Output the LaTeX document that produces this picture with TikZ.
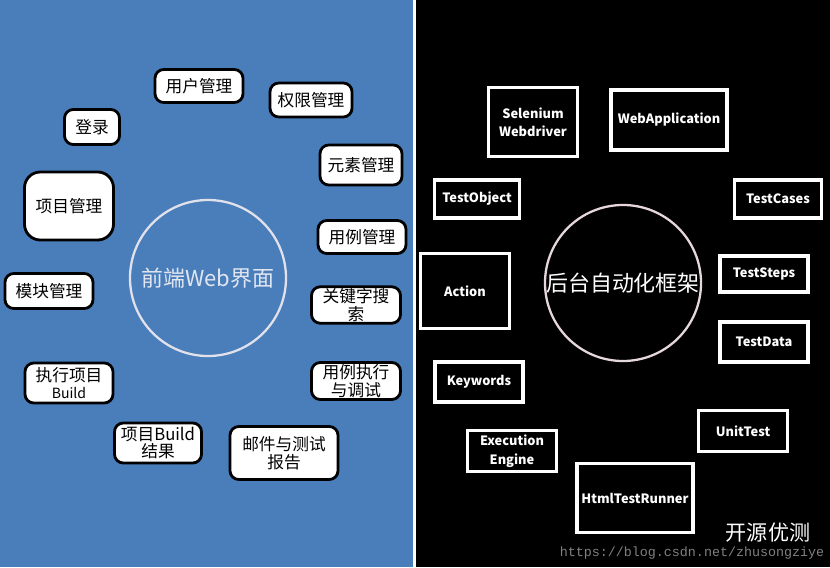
\documentclass[tikz,border=0pt]{standalone}
\usepackage{fontspec}
\setmainfont{Noto Sans CJK SC}
\setmonofont{Liberation Mono}
\usetikzlibrary{positioning}

\begin{document}
\begin{tikzpicture}[x=0.02cm,y=-0.02cm]

    %
    % Styles for panels, modules and centres
    %
    \tikzstyle{webBox} = [draw=black, line width=1.6pt, fill=white, rounded corners=5pt,
                          align=center, inner sep=1pt, font=\fontsize{9.5}{10}\selectfont, text=black];
    \tikzstyle{coreBox} = [draw=white, line width=2pt, fill=black, rectangle, align=center,
                           inner sep=1pt, font=\fontsize{7.3}{10.5}\selectfont\bfseries, text=white];
    \tikzstyle{hub} = [circle, line width=1.3pt, minimum size=156*0.02cm, inner sep=0pt,
                       font=\fontsize{12.5}{13}\selectfont];

    \useasboundingbox (0,0) rectangle (830,567);
    \fill[white] (0,0) rectangle (830,567);
    \fill[fill={rgb,255:red,74;green,126;blue,187}] (0,0) rectangle (413,567);
    \fill[black] (416,0) rectangle (830,567);

    %
    % Front end
    %
    \node[hub, draw={rgb,255:red,225;green,225;blue,235}, text={rgb,255:red,225;green,230;blue,240}, name=front] at (208,278) {前端Web界面};
    \node[webBox, minimum width=88*0.02cm, minimum height=33*0.02cm, name=users] at (199,86) {用户管理};
    \node[webBox, minimum width=82*0.02cm, minimum height=34*0.02cm, name=rights] at (311,100) {权限管理};
    \node[webBox, minimum width=55*0.02cm, minimum height=35*0.02cm, name=login] at (92,127) {登录};
    \node[webBox, minimum width=82*0.02cm, minimum height=40*0.02cm, name=elements] at (361,165) {元素管理};
    \node[webBox, minimum width=89*0.02cm, minimum height=68*0.02cm, rounded corners=9pt, name=projects] at (69,206) {项目管理};
    \node[webBox, minimum width=88*0.02cm, minimum height=33*0.02cm, name=cases] at (362,237) {用例管理};
    \node[webBox, minimum width=88*0.02cm, minimum height=35*0.02cm, name=modules] at (49,291) {模块管理};
    \node[webBox, minimum width=89*0.02cm, minimum height=35*0.02cm, name=search] at (356,305) {关键字搜\\索};
    \node[webBox, minimum width=88*0.02cm, minimum height=40*0.02cm, name=build] at (69,383) {执行项目\\{\fontsize{8}{9}\selectfont Build}};
    \node[webBox, minimum width=89*0.02cm, minimum height=37*0.02cm, name=debug] at (356,381) {用例执行\\与调试};
    \node[webBox, minimum width=87*0.02cm, minimum height=40*0.02cm, name=result] at (158,443) {项目Build\\结果};
    \node[webBox, minimum width=108*0.02cm, minimum height=53*0.02cm, name=report] at (284,453) {邮件与测试\\报告};

    %
    % Back end
    %
    \node[hub, draw={rgb,255:red,230;green,215;blue,220}, text=white, name=back] at (623,283) {后台自动化框架};
    \node[coreBox, minimum width=89*0.02cm, minimum height=69*0.02cm, name=selenium] at (533,122) {Selenium\\Webdriver};
    \node[coreBox, minimum width=116*0.02cm, minimum height=60*0.02cm, name=webapp] at (669,120) {WebApplication};
    \node[coreBox, minimum width=85*0.02cm, minimum height=38*0.02cm, name=testobject] at (477,199) {TestObject};
    \node[coreBox, minimum width=87*0.02cm, minimum height=38*0.02cm, name=testcases] at (778,199) {TestCases};
    \node[coreBox, minimum width=89*0.02cm, minimum height=75*0.02cm, name=action] at (465,291) {Action};
    \node[coreBox, minimum width=88*0.02cm, minimum height=36*0.02cm, name=teststeps] at (764,274) {TestSteps};
    \node[coreBox, minimum width=88*0.02cm, minimum height=40*0.02cm, name=testdata] at (764,342) {TestData};
    \node[coreBox, minimum width=88*0.02cm, minimum height=40*0.02cm, name=keywords] at (479,382) {Keywords};
    \node[coreBox, minimum width=89*0.02cm, minimum height=41*0.02cm, name=unittest] at (743,431) {UnitTest};
    \node[coreBox, minimum width=89*0.02cm, minimum height=41*0.02cm, name=engine] at (512,451) {Execution\\Engine};
    \node[coreBox, minimum width=116*0.02cm, minimum height=69*0.02cm, name=runner] at (635,498) {HtmlTestRunner};

    %
    % Watermark
    %
    \node[text=white, font=\fontsize{12}{12}\selectfont, name=mark] at (768,533) {开源优测};
    \node[text=gray, font=\ttfamily\fontsize{7.6}{8}\selectfont, name=url] at (692,553) {https://blog.csdn.net/zhusongziye};
  \end{tikzpicture}
\end{document}
